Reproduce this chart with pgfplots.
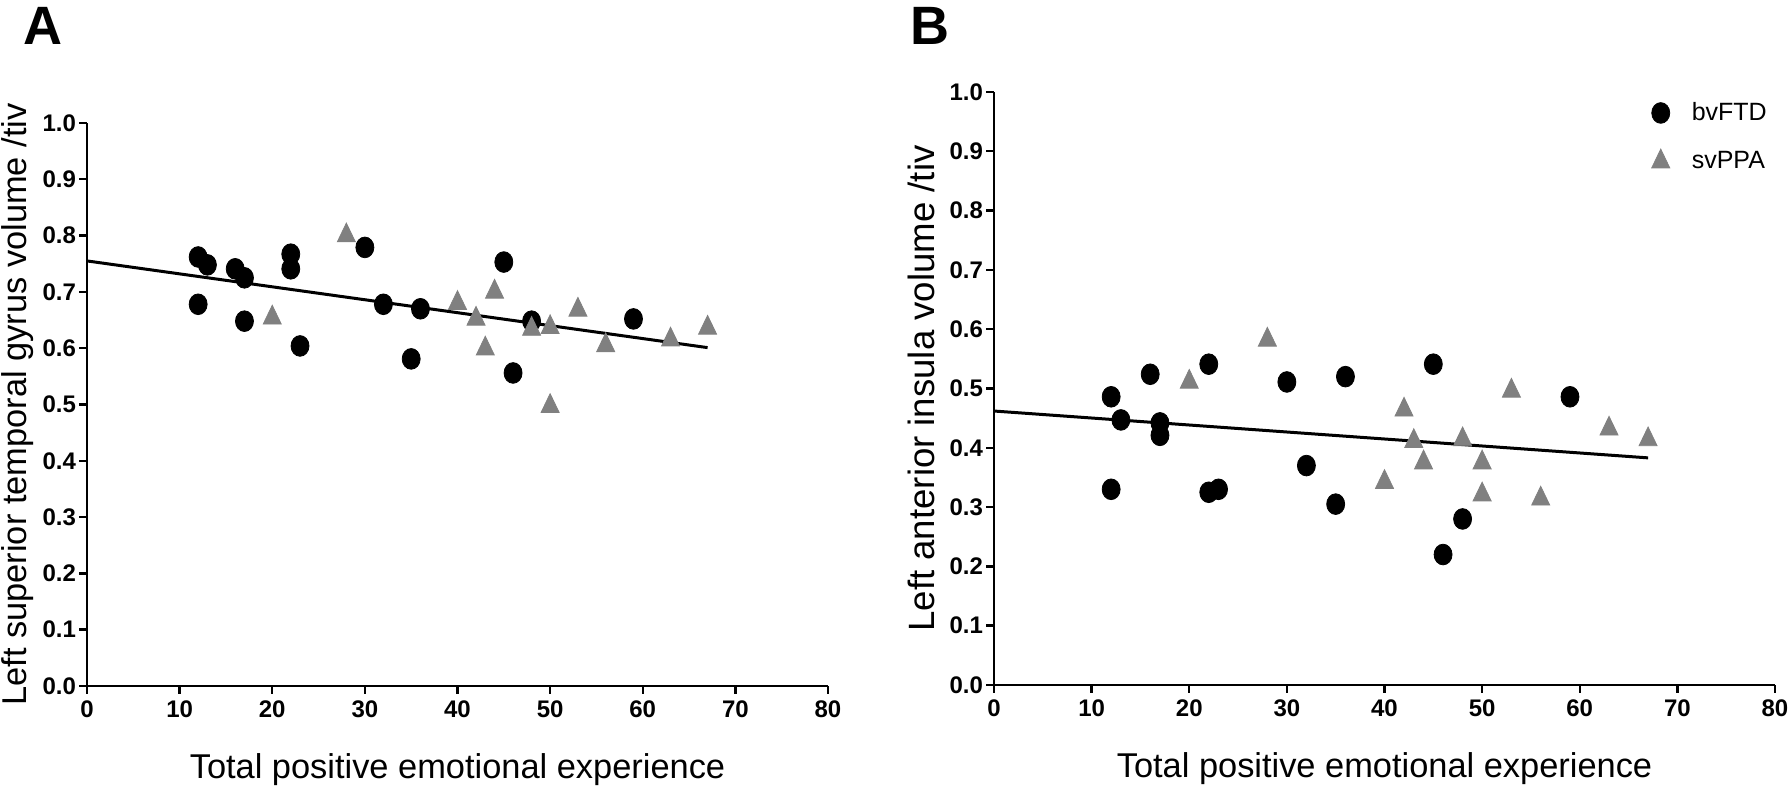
\documentclass[border=0pt]{standalone}
\usepackage{fontspec}
\setmainfont{Liberation Sans}
\usepackage{pgfplots}
\usepackage{pgfplotstable}
\pgfplotsset{compat=1.18}
\definecolor{svgray}{RGB}{128,128,128}

% panel A: left superior temporal gyrus
\pgfplotstableread{
x y
12 0.762
13 0.748
12 0.678
16 0.741
17 0.725
17 0.648
22 0.767
22 0.741
23 0.604
30 0.779
32 0.678
36 0.670
35 0.581
45 0.753
46 0.556
48 0.648
59 0.652
}\bvA
\pgfplotstableread{
x y
28 0.800
20 0.654
40 0.680
42 0.652
43 0.599
44 0.700
48 0.634
50 0.637
50 0.497
53 0.668
56 0.605
63 0.615
67 0.636
}\svA
% panel B: left anterior insula
\pgfplotstableread{
x y
12 0.486
13 0.447
12 0.330
17 0.442
17 0.421
22 0.325
23 0.330
32 0.370
35 0.305
46 0.220
48 0.280
59 0.486
16 0.524
22 0.541
30 0.511
36 0.520
45 0.541
}\bvB
\pgfplotstableread{
x y
20 0.511
28 0.582
42 0.464
43 0.411
44 0.375
40 0.342
48 0.414
50 0.375
50 0.321
53 0.496
56 0.314
63 0.432
67 0.414
}\svB

\pgfplotsset{
  panel/.style={
    scale only axis,
    xmin=0, xmax=80, ymin=0, ymax=1,
    axis lines=left,
    axis line style={line width=1.3pt, -},
    xtick={0,10,20,30,40,50,60,70,80},
    ytick={0,0.1,0.2,0.3,0.4,0.5,0.6,0.7,0.8,0.9,1.0},
    tick align=outside,
    major tick length=4pt,
    tick style={line width=1.2pt, black},
    /pgf/number format/assume math mode=true,
    ticklabel style={font=\fontsize{12}{14}\selectfont\bfseries},
    yticklabel style={xshift=2pt, /pgf/number format/fixed, /pgf/number format/fixed zerofill, /pgf/number format/precision=1},
    xlabel style={font=\fontsize{17.2}{20}\selectfont, at={(axis description cs:0.5,0)}, anchor=base, yshift=-46.5pt},
    ylabel style={font=\fontsize{17.2}{20}\selectfont, anchor=base},
    clip=false,
  },
  bv/.style={only marks, mark=*, mark size=4.5pt, mark options={fill=black, draw=black, yscale=1.15}},
  sv/.style={only marks, mark=triangle*, mark size=5.2pt, svgray, mark options={fill=svgray, draw=svgray, yscale=1.2}},
  fit/.style={black, line width=1.5pt, no marks},
}

\begin{document}
\begin{tikzpicture}
\path[use as bounding box] (0,0) rectangle (894.5pt,398pt);

\begin{axis}[panel,
  at={(43.5pt,55pt)}, anchor=south west,
  width=370.5pt, height=281.5pt,
  xlabel={Total positive emotional experience},
  ylabel={Left superior temporal gyrus volume /tiv},
  ylabel style={at={(axis description cs:-0.081,0.5)}},
]
\addplot[fit] coordinates {(0,0.755) (67,0.601)};
\addplot[bv] table {\bvA};
\addplot[sv] table {\svA};
\end{axis}

\begin{axis}[panel,
  at={(497pt,55.5pt)}, anchor=south west,
  width=390.5pt, height=296.5pt,
  xlabel={Total positive emotional experience},
  ylabel={Left anterior insula volume /tiv},
  ylabel style={at={(axis description cs:-0.076,0.5)}, font=\fontsize{18.3}{21}\selectfont},
  legend style={draw=none, fill=none, at={(rel axis cs:0.834,0.924)}, anchor=west,
    font=\fontsize{12.5}{15}\selectfont, row sep=10pt, column sep=9pt},
  legend cell align=left,
]
\addplot[fit, forget plot] coordinates {(0,0.462) (67,0.383)};
\addplot[bv] table {\bvB};
\addplot[sv] table {\svB};
\legend{bvFTD, svPPA}
\end{axis}

\node[anchor=base west, inner sep=0, font=\fontsize{27}{30}\selectfont\bfseries] at (11.5pt,375.5pt) {A};
\node[anchor=base west, inner sep=0, font=\fontsize{27}{30}\selectfont\bfseries] at (455pt,375.5pt) {B};
\end{tikzpicture}
\end{document}
